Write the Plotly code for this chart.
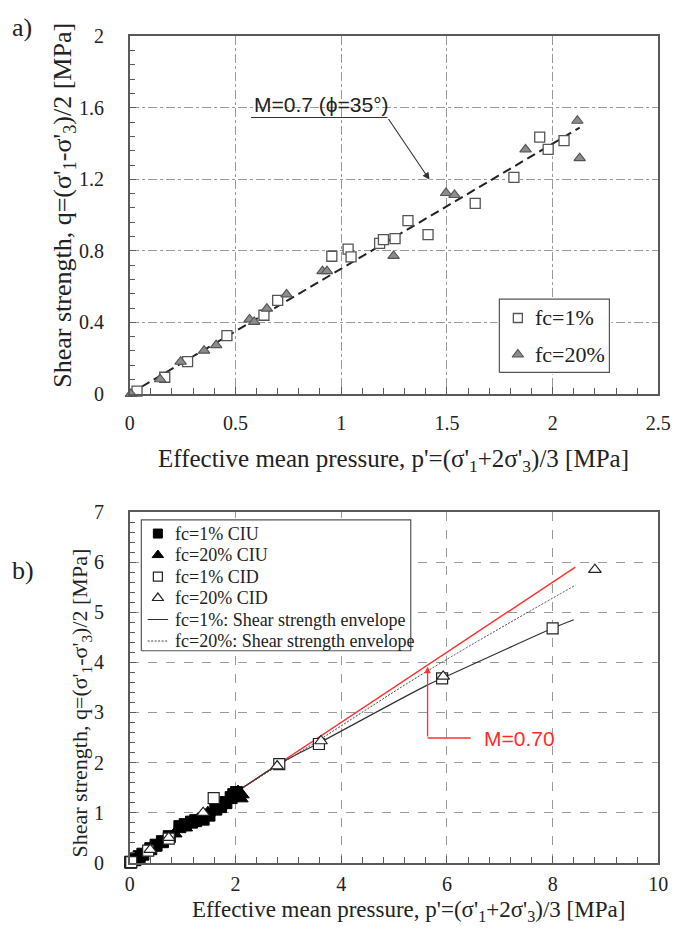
import plotly.graph_objects as go

# ---------------- (a) drained / undrained strength, fc = 1 % and 20 % ----------------
a_fc1_p = [0.035, 0.166, 0.274, 0.460, 0.635, 0.700, 0.956, 1.033, 1.047, 1.182, 1.200,
           1.255, 1.316, 1.411, 1.634, 1.817, 1.939, 1.979, 2.054]
a_fc1_q = [0.016, 0.093, 0.180, 0.326, 0.440, 0.523, 0.770, 0.810, 0.767, 0.842, 0.863,
           0.869, 0.969, 0.891, 1.066, 1.211, 1.437, 1.368, 1.417]
a_fc20_p = [0.006, 0.144, 0.241, 0.352, 0.409, 0.567, 0.589, 0.649, 0.742, 0.912, 0.933,
            1.248, 1.496, 1.536, 1.872, 2.117, 2.128]
a_fc20_q = [0.000, 0.082, 0.180, 0.242, 0.273, 0.417, 0.403, 0.477, 0.557, 0.687, 0.687,
            0.772, 1.124, 1.113, 1.368, 1.528, 1.319]
a_M = 0.7
a_line_p = [0.0, 2.128]
a_legend_names = ["fc=1%", "fc=20%"]

# ---------------- (b) CIU / CID tests and strength envelopes ----------------
b_fc1_ciu_p = [0.02, 0.10, 0.18, 0.25, 0.40, 0.50, 0.62, 0.75, 0.95, 1.05, 1.17, 1.25,
               1.39, 1.50, 1.63, 1.72, 1.82, 1.92, 1.97, 2.02]
b_fc1_ciu_q = [0.01, 0.06, 0.12, 0.17, 0.28, 0.35, 0.42, 0.52, 0.72, 0.76, 0.81, 0.84,
               0.87, 0.95, 1.07, 1.12, 1.20, 1.30, 1.36, 1.40]
b_fc20_ciu_p = [0.05, 0.22, 0.45, 0.68, 0.85, 1.05, 1.30, 1.48, 1.70, 1.95, 2.05, 2.12, 2.10]
b_fc20_ciu_q = [0.02, 0.13, 0.30, 0.46, 0.58, 0.70, 0.86, 1.00, 1.12, 1.30, 1.42, 1.36, 1.28]
b_fc1_cid_p = [0.03, 0.35, 0.74, 1.59, 2.83, 3.58, 5.91, 8.00]
b_fc1_cid_q = [0.01, 0.24, 0.48, 1.29, 1.97, 2.37, 3.68, 4.68]
b_fc20_cid_p = [0.39, 0.74, 1.39, 2.79, 3.62, 5.93, 8.80]
b_fc20_cid_q = [0.26, 0.50, 1.00, 1.93, 2.43, 3.72, 5.85]
env1_p = [0.0, 2.0, 2.83, 3.60, 5.62, 5.91, 8.00, 8.40]
env1_q = [0.0, 1.40, 1.97, 2.40, 3.54, 3.68, 4.68, 4.85]
env20_p = [0.0, 2.0, 3.60, 5.62, 8.43]
env20_q = [0.0, 1.40, 2.46, 3.82, 5.54]
b_M = 0.70
b_line_p = [0.0, 8.43]
b_legend_names = ["fc=1% CIU", "fc=20% CIU", "fc=1% CID", "fc=20% CID",
                  "fc=1%: Shear strength envelope", "fc=20%: Shear strength envelope"]

W, H = 685, 946
SERIF = "Liberation Serif, Times New Roman, serif"
SANS = "Liberation Sans, Arial, sans-serif"
INK = "#222222"
AXIS = "#5a5a5a"
GRID = "#9a9a9a"
RED = "#ff3030"

# marker styles shared by the plot and its legend
STY_A1 = dict(symbol="square", color="white", line=dict(color="#555555", width=1.3))
STY_A20 = dict(symbol="triangle-up", color="#8c8c8c", line=dict(color="#555555", width=1.1))
STY_CIU1 = dict(symbol="square", color="black", line=dict(color="black", width=1))
STY_CIU20 = dict(symbol="triangle-up", color="black", line=dict(color="black", width=1))
STY_CID1 = dict(symbol="square", color="white", line=dict(color="#222222", width=1.2))
STY_CID20 = dict(symbol="triangle-up", color="white", line=dict(color="#222222", width=1.2))
LINE_ENV1 = dict(color="#333333", width=1.2)
LINE_ENV20 = dict(color="#444444", width=1, dash="2px,1.5px")


def px_x(v):
    return v / W


def px_y(v):
    return 1 - v / H


fig = go.Figure()

# ---- panel (a) ----
fig.add_trace(go.Scatter(
    x=a_line_p, y=[a_M * p for p in a_line_p], mode="lines",
    line=dict(color="#222222", width=2, dash="9px,5px"),
    xaxis="x", yaxis="y", hoverinfo="skip"))
fig.add_trace(go.Scatter(
    x=a_fc1_p, y=a_fc1_q, mode="markers", name=a_legend_names[0],
    marker=dict(size=10, **STY_A1), xaxis="x", yaxis="y", cliponaxis=False))
fig.add_trace(go.Scatter(
    x=a_fc20_p, y=a_fc20_q, mode="markers", name=a_legend_names[1],
    marker=dict(size=10, **STY_A20), xaxis="x", yaxis="y", cliponaxis=False))

# ---- panel (b) ----
fig.add_trace(go.Scatter(
    x=b_line_p, y=[b_M * p for p in b_line_p], mode="lines",
    line=dict(color=RED, width=1.4), xaxis="x2", yaxis="y2", hoverinfo="skip"))
fig.add_trace(go.Scatter(
    x=env1_p, y=env1_q, mode="lines", name=b_legend_names[4],
    line=dict(shape="spline", **LINE_ENV1), xaxis="x2", yaxis="y2"))
fig.add_trace(go.Scatter(
    x=env20_p, y=env20_q, mode="lines", name=b_legend_names[5],
    line=dict(shape="spline", **LINE_ENV20), xaxis="x2", yaxis="y2"))
fig.add_trace(go.Scatter(
    x=b_fc1_ciu_p, y=b_fc1_ciu_q, mode="markers", name=b_legend_names[0],
    marker=dict(size=12, **STY_CIU1), xaxis="x2", yaxis="y2", cliponaxis=False))
fig.add_trace(go.Scatter(
    x=b_fc20_ciu_p, y=b_fc20_ciu_q, mode="markers", name=b_legend_names[1],
    marker=dict(size=13, **STY_CIU20), xaxis="x2", yaxis="y2", cliponaxis=False))
fig.add_trace(go.Scatter(
    x=b_fc1_cid_p, y=b_fc1_cid_q, mode="markers", name=b_legend_names[2],
    marker=dict(size=11, **STY_CID1), xaxis="x2", yaxis="y2", cliponaxis=False))
fig.add_trace(go.Scatter(
    x=b_fc20_cid_p, y=b_fc20_cid_q, mode="markers", name=b_legend_names[3],
    marker=dict(size=11, **STY_CID20), xaxis="x2", yaxis="y2", cliponaxis=False))


# ---- legend boxes: small hidden subplots laid over the charts ----
def legend_panel(xa, ya, box, rows, sym_x, text_x, entries, font_size):
    """box = (left, top, right, bottom) in page pixels; rows = row centres in pixels."""
    left, top, right, bottom = box
    bw, bh = right - left, bottom - top
    pad = 2
    axes = {
        xa: dict(domain=[px_x(left - pad), px_x(right + pad)],
                 range=[-pad / bw, 1 + pad / bw], visible=False, fixedrange=True),
        ya: dict(domain=[px_y(bottom + pad), px_y(top - pad)],
                 range=[-pad / bh, 1 + pad / bh], visible=False, fixedrange=True),
    }
    xref, yref = "x" + xa[5:], "y" + ya[5:]
    fig.add_trace(go.Scatter(
        x=[0, 1, 1, 0, 0], y=[0, 0, 1, 1, 0], mode="lines", fill="toself",
        fillcolor="white", line=dict(color="#555555", width=1.2),
        xaxis=xref, yaxis=yref, hoverinfo="skip"))
    sx = (sym_x - left) / bw
    tx = (text_x - left) / bw
    notes = []
    for (label, kind, style, size), ry in zip(entries, rows):
        yy = (bottom - ry) / bh
        if kind == "marker":
            fig.add_trace(go.Scatter(
                x=[sx], y=[yy], mode="markers", marker=dict(size=size, **style),
                xaxis=xref, yaxis=yref, hoverinfo="skip", cliponaxis=False))
        else:
            half = size / 2 / bw
            fig.add_trace(go.Scatter(
                x=[sx - half, sx + half], y=[yy, yy], mode="lines", line=style,
                xaxis=xref, yaxis=yref, hoverinfo="skip"))
        notes.append(dict(text=label, x=tx, y=yy, xref=xref, yref=yref,
                          xanchor="left", yanchor="middle", showarrow=False,
                          font=dict(family=SERIF, size=font_size, color=INK)))
    return axes, notes


legA_axes, legA_notes = legend_panel(
    "xaxis3", "yaxis3", (507.7, 295, 620.7, 370), [314.3, 351.7], 526.7, 542.7,
    [(a_legend_names[0], "marker", STY_A1, 9), (a_legend_names[1], "marker", STY_A20, 10)],
    22)
legB_axes, legB_notes = legend_panel(
    "xaxis4", "yaxis4", (140, 521, 416.7, 655), [535, 557, 579, 601, 623, 645], 157, 172.7,
    [(b_legend_names[0], "marker", STY_CIU1, 9), (b_legend_names[1], "marker", STY_CIU20, 10),
     (b_legend_names[2], "marker", STY_CID1, 9), (b_legend_names[3], "marker", STY_CID20, 10),
     (b_legend_names[4], "line", LINE_ENV1, 21), (b_legend_names[5], "line", LINE_ENV20, 21)],
    18)

XDOM = [px_x(128), px_x(671)]


def axis_style(**kw):
    base = dict(
        showline=True, linecolor=AXIS, linewidth=1.5, mirror=True,
        showgrid=True, gridcolor=GRID, gridwidth=1,
        zeroline=False, ticks="inside", ticklen=7, tickcolor=AXIS, tickwidth=1,
        tickfont=dict(family=SERIF, size=20, color=INK), tick0=0, fixedrange=True,
    )
    base.update(kw)
    return base


def minor(step):
    return dict(dtick=step, ticks="inside", ticklen=6, tickcolor=AXIS, showgrid=False)


fig.update_layout(
    width=W, height=H, showlegend=False,
    margin=dict(l=0, r=0, t=0, b=0),
    paper_bgcolor="white", plot_bgcolor="white",
    xaxis=axis_style(domain=XDOM, range=[0, 2.5], dtick=0.5, griddash="dashdot",
                     anchor="y", ticklabelstandoff=10, minor=minor(0.1)),
    yaxis=axis_style(domain=[px_y(392), px_y(26)], range=[0, 2], dtick=0.4,
                     griddash="dashdot", anchor="x", ticklabelstandoff=20, minor=minor(0.08)),
    xaxis2=axis_style(domain=XDOM, range=[0, 10], dtick=2, griddash="dash",
                      anchor="y2", ticklabelstandoff=3, minor=minor(0.4)),
    yaxis2=axis_style(domain=[px_y(872), px_y(513)], range=[0, 7], dtick=1,
                      griddash="dash", anchor="x2", ticklabelstandoff=20, minor=minor(0.2)),
    **legA_axes, **legB_axes,
)

xt = "Effective mean pressure, p'=(σ'<sub>1</sub>+2σ'<sub>3</sub>)/3 [MPa]"
yt = "Shear strength, q=(σ'<sub>1</sub>-σ'<sub>3</sub>)/2 [MPa]"


def page_text(text, x, y, size, angle=0, family=SERIF, color=INK, anchor="center"):
    return dict(text=text, x=px_x(x), y=px_y(y), xref="paper", yref="paper",
                xanchor=anchor, yanchor="middle", showarrow=False, textangle=angle,
                font=dict(family=family, size=size, color=color))


annotations = [
    page_text("a)", 5, 17, 26, anchor="left"),
    page_text("b)", 5, 573, 26, anchor="left"),
    page_text(xt, 399, 460, 25),
    page_text(yt, 61, 199, 26, angle=-90),
    page_text(xt, 414, 921, 23),
    page_text(yt, 78, 708, 22, angle=-90),
    # panel (a) critical state label with leader
    dict(text="M=0.7 (ϕ=35°)", x=0.907, y=1.617, xref="x", yref="y",
         xanchor="center", yanchor="middle", showarrow=False,
         font=dict(family=SANS, size=21, color=INK)),
    dict(text="", x=1.418, y=1.198, ax=1.219, ay=1.546, xref="x", yref="y",
         axref="x", ayref="y", showarrow=True, arrowhead=2, arrowsize=1.3,
         arrowwidth=1.1, arrowcolor="#333333"),
    # panel (b) M label with leader
    page_text("M=0.70", 528, 745, 21, family=SANS, color="#ff2a2a"),
    dict(text="", x=5.635, y=b_M * 5.635 - 0.03, ax=5.635, ay=2.49, xref="x2", yref="y2",
         axref="x2", ayref="y2", showarrow=True, arrowhead=2, arrowsize=1,
         arrowwidth=1.3, arrowcolor=RED),
] + legA_notes + legB_notes
fig.update_layout(annotations=annotations)

fig.update_layout(shapes=[
    dict(type="line", xref="x", yref="y", x0=0.574, x1=1.219, y0=1.546, y1=1.546,
         line=dict(color="#333333", width=1.1)),
    dict(type="line", xref="x2", yref="y2", x0=5.635, x1=6.45, y0=2.49, y1=2.49,
         line=dict(color=RED, width=1.3)),
])

fig.write_html("out.html")
